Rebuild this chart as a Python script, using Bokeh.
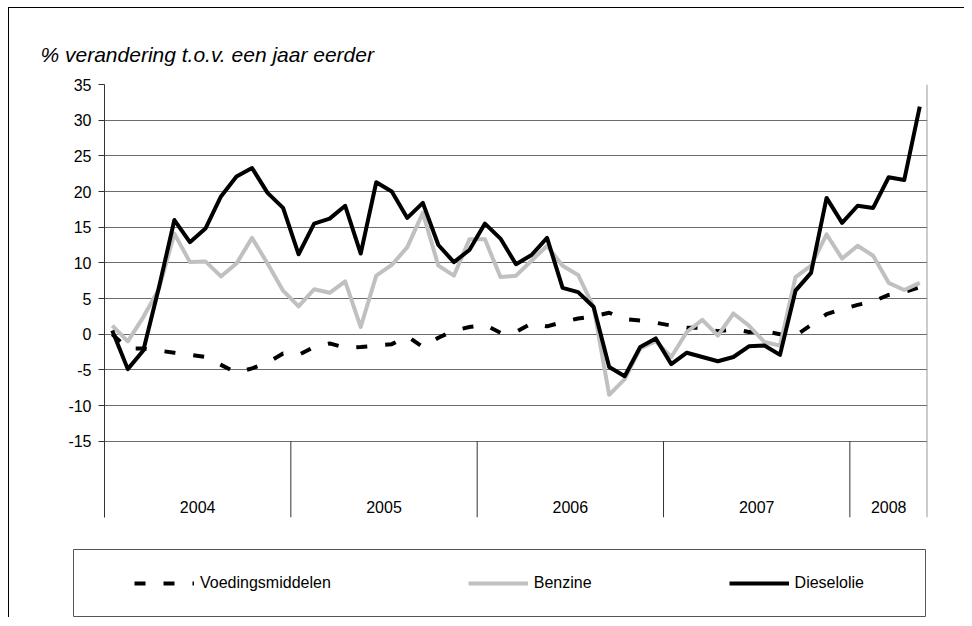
import numpy as np
from bokeh.plotting import figure
from bokeh.models import Range1d, FixedTicker, Span, Legend, LegendItem, Spacer, ColumnDataSource
from bokeh.layouts import column, row
from bokeh.embed import file_html
from bokeh.resources import INLINE

# ---- data ----
years = ["2004", "2005", "2006", "2007", "2008"]
months_per_year = [12, 12, 12, 12, 5]

voedingsmiddelen = [0.0, -2.0, -2.0, -2.3, -2.6, -2.9, -3.2, -4.3, -5.4, -4.8, -4.0, -2.7,
                    -2.9, -1.8, -1.3, -1.9, -1.8, -1.6, -1.4, -0.3, -1.8, -0.5, 0.5, 1.0,
                    1.3, 0.2, 0.3, 1.5, 1.1, 1.7, 2.2, 2.5, 3.0, 2.1, 1.9, 1.6,
                    1.2, 0.9, 0.9, 0.4, 0.7, 0.3, 0.4, 0.0, -0.2, 1.3, 2.8, 3.5,
                    4.1, 4.6, 5.5, 5.9, 6.6]
benzine = [1.2, -1.0, 2.4, 6.3, 14.1, 10.1, 10.2, 8.1, 9.9, 13.5, 9.9, 6.1,
           3.9, 6.3, 5.8, 7.4, 1.0, 8.2, 9.7, 12.2, 17.0, 9.6, 8.2, 13.3,
           13.3, 8.0, 8.2, 10.3, 12.4, 9.6, 8.3, 3.8, -8.5, -6.3, -2.0, -1.0,
           -3.2, 0.3, 2.0, -0.2, 2.9, 1.2, -1.1, -1.6, 8.0, 9.6, 14.0, 10.6,
           12.4, 11.0, 7.2, 6.2, 7.2]
dieselolie = [0.5, -4.9, -2.3, 6.5, 16.0, 12.9, 14.8, 19.3, 22.1, 23.3, 19.8, 17.7,
              11.2, 15.5, 16.2, 18.0, 11.3, 21.3, 20.0, 16.3, 18.4, 12.5, 10.1, 11.8,
              15.5, 13.4, 9.8, 11.1, 13.5, 6.5, 5.9, 3.8, -4.6, -5.9, -1.8, -0.6,
              -4.2, -2.6, -3.2, -3.8, -3.2, -1.7, -1.6, -2.9, 6.1, 8.6, 19.1, 15.6,
              18.0, 17.7, 22.0, 21.6, 31.9]
y_ticks = [-15, -10, -5, 0, 5, 10, 15, 20, 25, 30, 35]
title_text = "% verandering t.o.v. een jaar eerder"
series_names = ["Voedingsmiddelen", "Benzine", "Dieselolie"]

# ---- derived ----
n = int(sum(months_per_year))
x = np.arange(n) + 0.5
bounds = np.cumsum(months_per_year)
starts = bounds - np.array(months_per_year)
centers = (starts + bounds) / 2.0
inner_bounds = [float(b) for b in bounds[:-1]]

FONT = "Liberation Sans"
y_bottom = -25.7
DASH = "11 18"

p = figure(width=955, height=540, output_backend="svg", toolbar_location=None,
           x_range=Range1d(0, n), y_range=Range1d(y_bottom, max(y_ticks)),
           x_axis_location=None, min_border_left=95, min_border_right=37,
           min_border_top=76, min_border_bottom=31)
p.outline_line_color = None
p.xgrid.visible = False
p.ygrid.ticker = FixedTicker(ticks=y_ticks)
p.ygrid.grid_line_color = "#6b6b6b"
p.yaxis.ticker = FixedTicker(ticks=y_ticks)
p.yaxis.major_label_overrides = {t: str(t) for t in y_ticks}
p.yaxis.axis_line_color = "#333333"
p.yaxis.major_tick_line_color = "#333333"
p.yaxis.major_tick_out = 6
p.yaxis.major_tick_in = 0
p.yaxis.minor_tick_line_color = None
p.yaxis.major_label_text_font = FONT
p.yaxis.major_label_text_font_size = "16px"
p.yaxis.major_label_text_color = "black"
p.yaxis.major_label_standoff = 7

p.title.text = title_text
p.title.text_font = FONT
p.title.text_font_size = "21px"
p.title.text_font_style = "italic"
p.title.text_color = "black"
p.title.align = "left"
p.title.offset = -64
p.title.standoff = 37

# right border line of plot area
p.add_layout(Span(location=n, dimension="height", line_color="#999999", line_width=2))

# year separators and labels
p.segment(x0=inner_bounds, y0=[min(y_ticks)] * len(inner_bounds), x1=inner_bounds,
          y1=[y_bottom] * len(inner_bounds), line_color="#333333", line_width=1)
p.text(x=list(centers), y=[y_bottom] * len(years), text=years, text_font_size="16px",
       text_align="center", text_baseline="bottom", y_offset=-5, text_color="black",
       text_font={"value": FONT})

src = ColumnDataSource(dict(x=x, v=voedingsmiddelen, b=benzine, d=dieselolie))
p.line("x", "v", source=src, line_color="black", line_width=4, line_dash=DASH)
p.line("x", "b", source=src, line_color="#c0c0c0", line_width=4, line_join="round")
p.line("x", "d", source=src, line_color="black", line_width=4, line_join="round")

# legend box (separate small figure; single-point lines draw nothing but give legend glyphs)
p2 = figure(width=854, height=69, output_backend="svg", toolbar_location=None,
            x_range=Range1d(0, 1), y_range=Range1d(0, 1), x_axis_location=None,
            y_axis_location=None, min_border=1)
p2.grid.visible = False
p2.outline_line_color = "#555555"
l1 = p2.line([0], [0], line_color="black", line_width=4, line_dash=DASH)
l2 = p2.line([0], [0], line_color="#c0c0c0", line_width=4)
l3 = p2.line([0], [0], line_color="black", line_width=4)
legend = Legend(items=[LegendItem(label=series_names[0], renderers=[l1]),
                       LegendItem(label=series_names[1], renderers=[l2]),
                       LegendItem(label=series_names[2], renderers=[l3])],
                location="center", orientation="horizontal", glyph_width=60,
                label_standoff=6, spacing=137, padding=0, border_line_alpha=0,
                background_fill_alpha=0, label_text_font=FONT, label_text_font_size="16px",
                label_text_color="black")
p2.add_layout(legend)

layout = column(p, row(Spacer(width=63, height=69), p2), spacing=0,
                styles={"border-left": "1px solid black", "border-top": "1px solid black",
                        "margin-left": "8px", "margin-top": "7px"})

open("out.html", "w").write(file_html(layout, INLINE))
